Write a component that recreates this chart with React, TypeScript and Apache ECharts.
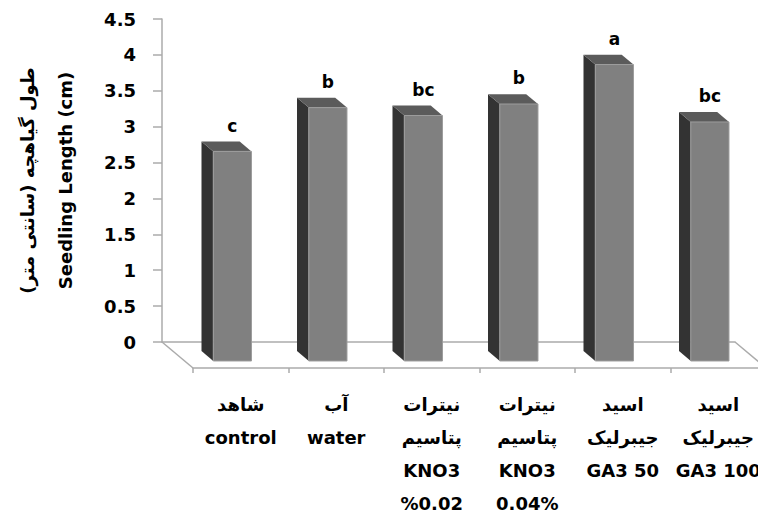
import React, { useEffect, useRef } from 'react';
import * as echarts from 'echarts';

// ---- data ----
const categories = [
  'شاهد\ncontrol',
  'آب\nwater',
  'نیترات\nپتاسیم\nKNO3\n%0.02',
  'نیترات\nپتاسیم\nKNO3\n0.04%',
  'اسید\nجیبرلیک\nGA3 50',
  'اسید\nجیبرلیک\nGA3 100',
];
const seedlingLength = [2.92, 3.53, 3.42, 3.58, 4.13, 3.33];
const groupLetters = ['c', 'b', 'bc', 'b', 'a', 'bc'];
const yMin = 0;
const yMax = 4.5;
const yInterval = 0.5;
const yTitlePersian = '\u200Fطول گیاهچه (سانتی متر)\u200F';
const yTitleEnglish = 'Seedling Length (cm)';

// ---- layout ----
const W = 758;
const H = 517;
const WALL_LEFT = 162;
const WALL_TOP = 19;
const WALL_BOTTOM = 342;
const WALL_WIDTH = 573;
const DX = 31;
const DY = 26;
const FRONT_FRAC = 0.73;
const BACK_FRAC = 0.35;
const BAR_RATIO = 0.4;
const FONT = '"DejaVu Sans", "Noto Sans", sans-serif';
const LINE_COLOR = '#ababab';

export default function App() {
  const ref = useRef<HTMLDivElement>(null);

  useEffect(() => {
    if (!ref.current) return;
    const chart = echarts.init(ref.current, undefined, { renderer: 'svg' });
    const wallHeight = WALL_BOTTOM - WALL_TOP;

    const option: any = {
      animation: false,
      backgroundColor: '#ffffff',
      grid: [
        { left: WALL_LEFT, top: WALL_TOP, width: WALL_WIDTH, height: wallHeight, outerBoundsMode: 'none', containLabel: false },
        { left: WALL_LEFT + DX, top: WALL_TOP + DY, width: WALL_WIDTH, height: wallHeight, outerBoundsMode: 'none', containLabel: false },
      ],
      xAxis: [
        {
          type: 'category',
          gridIndex: 0,
          data: categories.map((_, i) => i),
          boundaryGap: true,
          axisLine: { show: true, lineStyle: { color: LINE_COLOR, width: 1.5 } },
          axisTick: { show: false },
          axisLabel: { show: false },
          splitLine: { show: false },
        },
        {
          type: 'category',
          gridIndex: 1,
          data: categories,
          boundaryGap: true,
          axisLine: { show: true, lineStyle: { color: LINE_COLOR, width: 1.5 } },
          axisTick: { show: true, length: 5, lineStyle: { color: LINE_COLOR, width: 1.5 } },
          axisLabel: {
            interval: 0,
            margin: 20,
            color: '#000',
            fontFamily: FONT,
            fontWeight: 'bold',
            fontSize: 18,
            lineHeight: 33,
          },
          splitLine: { show: false },
        },
      ],
      yAxis: [
        {
          type: 'value',
          gridIndex: 0,
          min: yMin,
          max: yMax,
          interval: yInterval,
          axisLine: { show: true, lineStyle: { color: LINE_COLOR, width: 1.5 } },
          axisTick: { show: true, length: 9, lineStyle: { color: LINE_COLOR, width: 1.5 } },
          splitLine: { show: false },
          axisLabel: {
            margin: 26,
            color: '#000',
            fontFamily: FONT,
            fontWeight: 'bold',
            fontSize: 18,
          },
          name: yTitlePersian + '\n' + yTitleEnglish,
          nameLocation: 'middle',
          nameRotate: 90,
          nameGap: 78,
          nameTextStyle: {
            color: '#000',
            fontFamily: FONT,
            fontWeight: 'bold',
            fontSize: 18,
            lineHeight: 38,
          },
        },
        {
          type: 'value',
          gridIndex: 1,
          min: yMin,
          max: yMax,
          interval: yInterval,
          show: false,
        },
      ],
      graphic: [
        {
          type: 'line',
          shape: { x1: WALL_LEFT, y1: WALL_BOTTOM, x2: WALL_LEFT + DX, y2: WALL_BOTTOM + DY },
          style: { stroke: LINE_COLOR, lineWidth: 1.5 },
        },
        {
          type: 'line',
          shape: { x1: WALL_LEFT + WALL_WIDTH, y1: WALL_BOTTOM, x2: WALL_LEFT + WALL_WIDTH + DX, y2: WALL_BOTTOM + DY },
          style: { stroke: LINE_COLOR, lineWidth: 1.5 },
        },
      ],
      series: [
        {
          type: 'custom',
          xAxisIndex: 0,
          yAxisIndex: 0,
          clip: false,
          data: seedlingLength.map((v, i) => [i, v]),
          renderItem: (params: any, api: any) => {
            const i = api.value(0);
            const v = api.value(1);
            const base = api.coord([i, 0]);
            const top = api.coord([i, v]);
            const band = api.size([1, 0])[0];
            const half = (band * BAR_RATIO) / 2;
            const h = base[1] - top[1];
            const fx = base[0] + DX * FRONT_FRAC;
            const fy = base[1] + DY * FRONT_FRAC;
            const bx = base[0] + DX * BACK_FRAC;
            const by = base[1] + DY * BACK_FRAC;
            return {
              type: 'group',
              children: [
                {
                  type: 'polygon',
                  shape: { points: [[bx - half, by], [fx - half, fy], [fx - half, fy - h], [bx - half, by - h]] },
                  style: { fill: '#333333' },
                },
                {
                  type: 'polygon',
                  shape: { points: [[bx - half, by - h], [bx + half, by - h], [fx + half, fy - h], [fx - half, fy - h]] },
                  style: { fill: '#5b5b5b' },
                },
                {
                  type: 'rect',
                  shape: { x: fx - half, y: fy - h, width: 2 * half, height: h },
                  style: { fill: '#808080', stroke: '#9c9c9c', lineWidth: 1 },
                },
                {
                  type: 'text',
                  style: {
                    text: groupLetters[i],
                    x: fx,
                    y: by - h - 16,
                    align: 'center',
                    verticalAlign: 'middle',
                    textAlign: 'center',
                    textVerticalAlign: 'middle',
                    fontFamily: FONT,
                    fontWeight: 'bold',
                    fontSize: 17,
                    fill: '#000',
                  },
                },
              ],
            };
          },
        },
      ],
    };

    chart.setOption(option);
    return () => chart.dispose();
  }, []);

  return <div ref={ref} style={{ position: 'absolute', left: 0, top: 0, width: W, height: H }} />;
}
